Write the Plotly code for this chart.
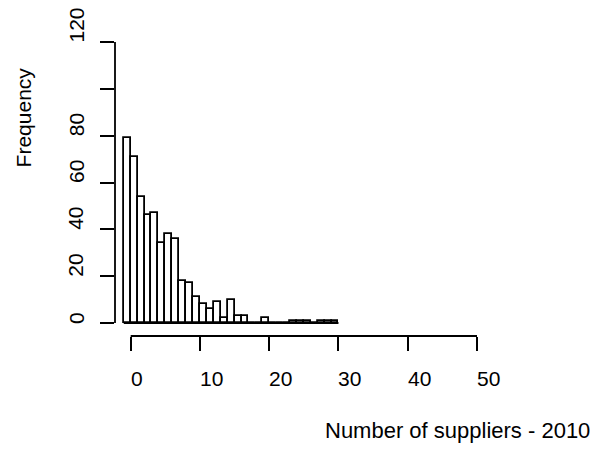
import plotly.graph_objects as go

# Histogram data (bin width 1, bins start at -1)
bin_left = list(range(-1, 30))
counts = [79, 71, 54, 46, 47, 34, 38, 36, 18, 17, 11, 8, 6, 9, 2, 10, 3, 3,
          0, 0, 2, 0, 0, 0, 1, 1, 1, 0, 1, 1, 1]

x_ticks = [0, 10, 20, 30, 40, 50]
x_tick_labels = ["0", "10", "20", "30", "40", "50"]
y_ticks = [0, 20, 40, 60, 80, 100, 120]
y_label_vals = [0, 20, 40, 60, 80, 120]
y_tick_labels = ["0", "20", "40", "60", "80", "120"]

x_title = "Number of suppliers - 2010"
y_title = "Frequency"

FONT = "Liberation Sans, Arial, Helvetica, sans-serif"
FS = 21
LW = 1.8

# figure size (page body has an 8px margin)
W, H = 592, 444
L, R, T, B = 107, 122.7, 33.7, 116.3

fig = go.Figure()

# baseline through all bins (zero-count bins drawn as flat line, as in R)
fig.add_trace(go.Scatter(
    x=[bin_left[0], bin_left[-1] + 1], y=[0, 0], mode="lines",
    line=dict(color="black", width=LW), hoverinfo="skip", showlegend=False))

fig.add_trace(go.Bar(
    x=bin_left, y=counts, width=1, offset=0,
    marker=dict(color="white", line=dict(color="black", width=LW)),
    showlegend=False))

# axis lines limited to the tick range (R style)
fig.add_shape(type="line", xref="x", yref="paper",
              x0=min(x_ticks), x1=max(x_ticks), y0=0, y1=0,
              line=dict(color="black", width=LW))
fig.add_shape(type="line", xref="paper", yref="y",
              x0=0, x1=0, y0=min(y_ticks), y1=max(y_ticks),
              line=dict(color="black", width=LW))

# x tick labels (left-aligned at tick)
for v, t in zip(x_ticks, x_tick_labels):
    fig.add_annotation(x=v, y=0, xref="x", yref="paper", text=t,
                       showarrow=False, xanchor="left", yanchor="middle",
                       yshift=-42, xshift=-2,
                       font=dict(family=FONT, size=FS, color="black"))

# y tick labels (rotated, starting at tick)
for v, t in zip(y_label_vals, y_tick_labels):
    fig.add_annotation(x=0, y=v, xref="paper", yref="y", text=t,
                       showarrow=False, textangle=-90,
                       xanchor="center", yanchor="bottom",
                       xshift=-39, yshift=-3,
                       font=dict(family=FONT, size=FS, color="black"))

def px_to_paper(px, py):
    return (px - L) / (W - L - R), 1 - (py - T) / (H - T - B)

xt_x, xt_y = px_to_paper(314.7, 422.5)
fig.add_annotation(x=xt_x, y=xt_y, xref="paper", yref="paper", text=x_title,
                   showarrow=False, xanchor="left", yanchor="middle",
                   font=dict(family=FONT, size=22, color="black"))
yt_x, yt_y = px_to_paper(15, 109)
fig.add_annotation(x=yt_x, y=yt_y, xref="paper", yref="paper", text=y_title,
                   showarrow=False, textangle=-90, xanchor="center", yanchor="middle",
                   font=dict(family=FONT, size=FS, color="black"))

fig.update_layout(
    width=W, height=H,
    margin=dict(l=L, r=R, t=T, b=B, pad=0),
    plot_bgcolor="white", paper_bgcolor="white",
    bargap=0,
    xaxis=dict(range=[-2.265, 50], tickvals=x_ticks, ticktext=["" for _ in x_ticks],
               ticks="outside", ticklen=13.5, tickwidth=LW, tickcolor="black",
               showgrid=False, zeroline=False, showline=False),
    yaxis=dict(range=[-5.55, 120], tickvals=y_ticks, ticktext=["" for _ in y_ticks],
               ticks="outside", ticklen=14, tickwidth=LW, tickcolor="black",
               showgrid=False, zeroline=False, showline=False),
)

fig.write_html("out.html")
